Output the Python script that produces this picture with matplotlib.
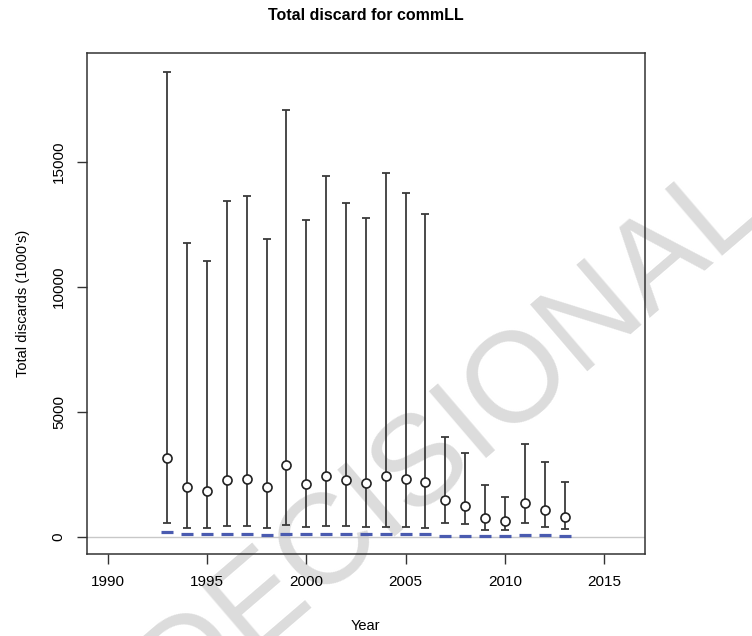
import matplotlib
matplotlib.use("Agg")
import matplotlib.pyplot as plt

plt.rcParams['font.family'] = ['Liberation Sans', 'DejaVu Sans']

years = list(range(1993, 2014))
est = [3150, 1990, 1840, 2280, 2310, 2010, 2880, 2130, 2430, 2270, 2150,
       2450, 2320, 2190, 1470, 1230, 770, 630, 1360, 1080, 810]
upper = [18610, 11770, 11040, 13440, 13630, 11920, 17080, 12690, 14440, 13360, 12760,
         14550, 13750, 12920, 4000, 3350, 2080, 1590, 3710, 2990, 2210]
lower = [550, 360, 360, 430, 430, 360, 490, 410, 440, 440, 410,
         400, 400, 360, 560, 510, 290, 270, 560, 400, 330]
observed = [200, 110, 110, 110, 110, 80, 110, 110, 110, 110, 110,
            110, 110, 110, 40, 40, 40, 40, 80, 80, 50]

fig = plt.figure(figsize=(7.52, 6.36), dpi=100)
ax = fig.add_axes([0.1153, 0.1289, 0.7424, 0.7873])

# watermark, sits under the data and the box
ax.text(1.02, 0.672, "PREDECISIONAL", transform=fig.transFigure, fontsize=92,
        color='#dcdcdc', rotation=40.6, rotation_mode='anchor',
        ha='right', va='baseline', zorder=0, clip_on=False)

ax.axhline(0, color='#c8c8c8', lw=1, zorder=1)
yerr = [[e - l for e, l in zip(est, lower)], [u - e for u, e in zip(upper, est)]]
ax.errorbar(years, est, yerr=yerr, fmt='none', ecolor='#3a3a3a', elinewidth=1.3,
            capsize=3, capthick=1.3, zorder=2)
ax.plot(years, est, 'o', mfc='white', mec='#222222', ms=6.5, mew=1.2, zorder=3)
ax.plot(years, observed, '_', color='#4a5bb0', ms=8, mew=2.3, zorder=3)

ax.set_xlim(1988.95, 2017.05)
ax.set_ylim(-680, 19350)
ax.set_xticks([1990, 1995, 2000, 2005, 2010, 2015])
ax.set_yticks([0, 5000, 10000, 15000])
ax.tick_params(direction='out', length=7, width=1, color='#333333', labelsize=11, pad=8)
for lab in ax.get_yticklabels():
    lab.set_rotation(90)
    lab.set_va('center')
for s in ax.spines.values():
    s.set_color('#333333')
    s.set_linewidth(1.1)

ax.set_xlabel("Year", fontsize=10.5, labelpad=22)
ax.set_ylabel("Total discards (1000's)", fontsize=10.5, labelpad=16)
ax.set_title("Total discard for commLL", fontsize=11.5, fontweight='bold', pad=24)

fig.savefig("out.png", dpi=100)
